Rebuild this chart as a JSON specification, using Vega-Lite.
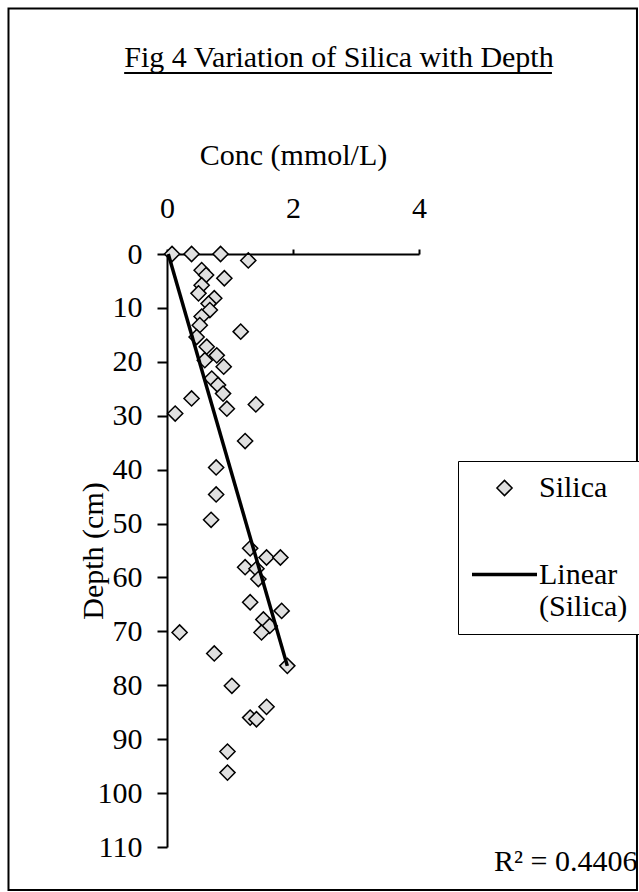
{
  "$schema": "https://vega.github.io/schema/vega-lite/v6.json",
  "autosize": {"type": "none"},
  "width": 252,
  "height": 593,
  "padding": {"left": 167, "top": 254, "right": 220, "bottom": 45},
  "background": "white",
  "config": {
    "view": {"stroke": null},
    "font": "Liberation Serif",
    "axis": {
      "labelFont": "Liberation Serif",
      "titleFont": "Liberation Serif",
      "labelFontSize": 30,
      "titleFontSize": 30,
      "titleFontWeight": "normal",
      "labelColor": "black",
      "titleColor": "black",
      "domainColor": "black",
      "tickColor": "black",
      "domainWidth": 2,
      "tickWidth": 2,
      "grid": false
    }
  },
  "title": {
    "text": "Fig 4 Variation of Silica with Depth",
    "font": "Liberation Serif",
    "fontSize": 30,
    "fontWeight": "normal",
    "color": "black",
    "anchor": "middle",
    "frame": "group",
    "dx": 46,
    "dy": 70
  },
  "layer": [
    {
      "data": {"values": [{"item": "frame"}]},
      "mark": {"type": "rect", "filled": false, "stroke": "black", "strokeWidth": 2, "clip": false},
      "encoding": {
        "x": {"datum": -2.516, "type": "quantitative", "scale": {"domain": [0, 4], "nice": false, "zero": false}},
        "x2": {"datum": 7.46},
        "y": {"datum": -45.54, "type": "quantitative", "scale": {"domain": [0, 110], "nice": false, "zero": false, "reverse": true}},
        "y2": {"datum": 117.98}
      }
    },
    {
      "data": {"values": [{"item": "underline"}]},
      "mark": {"type": "rule", "stroke": "black", "strokeWidth": 2, "clip": false},
      "encoding": {
        "x": {"datum": -0.68, "type": "quantitative"},
        "x2": {"datum": 6.11},
        "y": {"datum": -33.57, "type": "quantitative"}
      }
    },
    {
      "data": {
        "values": [
          {"conc": 0.08, "depth": 0, "series": "Silica"},
          {"conc": 0.39, "depth": 0, "series": "Silica"},
          {"conc": 0.85, "depth": 0, "series": "Silica"},
          {"conc": 1.29, "depth": 1.2, "series": "Silica"},
          {"conc": 0.55, "depth": 3.0, "series": "Silica"},
          {"conc": 0.62, "depth": 3.9, "series": "Silica"},
          {"conc": 0.91, "depth": 4.5, "series": "Silica"},
          {"conc": 0.55, "depth": 5.8, "series": "Silica"},
          {"conc": 0.5, "depth": 7.3, "series": "Silica"},
          {"conc": 0.75, "depth": 8.2, "series": "Silica"},
          {"conc": 0.66, "depth": 9.2, "series": "Silica"},
          {"conc": 0.68, "depth": 10.4, "series": "Silica"},
          {"conc": 0.55, "depth": 11.6, "series": "Silica"},
          {"conc": 0.52, "depth": 13.2, "series": "Silica"},
          {"conc": 1.17, "depth": 14.4, "series": "Silica"},
          {"conc": 0.47, "depth": 15.4, "series": "Silica"},
          {"conc": 0.63, "depth": 17.2, "series": "Silica"},
          {"conc": 0.79, "depth": 18.8, "series": "Silica"},
          {"conc": 0.6, "depth": 19.7, "series": "Silica"},
          {"conc": 0.9, "depth": 20.9, "series": "Silica"},
          {"conc": 0.71, "depth": 23.1, "series": "Silica"},
          {"conc": 0.81, "depth": 24.3, "series": "Silica"},
          {"conc": 0.89, "depth": 25.9, "series": "Silica"},
          {"conc": 0.39, "depth": 26.8, "series": "Silica"},
          {"conc": 1.41, "depth": 27.9, "series": "Silica"},
          {"conc": 0.95, "depth": 28.7, "series": "Silica"},
          {"conc": 0.13, "depth": 29.6, "series": "Silica"},
          {"conc": 1.24, "depth": 34.7, "series": "Silica"},
          {"conc": 0.78, "depth": 39.6, "series": "Silica"},
          {"conc": 0.78, "depth": 44.6, "series": "Silica"},
          {"conc": 0.7, "depth": 49.3, "series": "Silica"},
          {"conc": 1.32, "depth": 54.6, "series": "Silica"},
          {"conc": 1.58, "depth": 56.3, "series": "Silica"},
          {"conc": 1.8, "depth": 56.3, "series": "Silica"},
          {"conc": 1.24, "depth": 58.1, "series": "Silica"},
          {"conc": 1.42, "depth": 58.4, "series": "Silica"},
          {"conc": 1.45, "depth": 60.3, "series": "Silica"},
          {"conc": 1.32, "depth": 64.6, "series": "Silica"},
          {"conc": 1.82, "depth": 66.2, "series": "Silica"},
          {"conc": 1.53, "depth": 67.8, "series": "Silica"},
          {"conc": 1.63, "depth": 69.0, "series": "Silica"},
          {"conc": 1.5, "depth": 70.2, "series": "Silica"},
          {"conc": 0.2, "depth": 70.2, "series": "Silica"},
          {"conc": 0.75, "depth": 74.1, "series": "Silica"},
          {"conc": 1.91, "depth": 76.4, "series": "Silica"},
          {"conc": 1.03, "depth": 80.1, "series": "Silica"},
          {"conc": 1.58, "depth": 84.0, "series": "Silica"},
          {"conc": 1.32, "depth": 86.0, "series": "Silica"},
          {"conc": 1.42, "depth": 86.3, "series": "Silica"},
          {"conc": 0.96, "depth": 92.3, "series": "Silica"},
          {"conc": 0.96, "depth": 96.2, "series": "Silica"}
        ]
      },
      "mark": {"type": "point", "filled": true, "fill": "#e0e0e0", "stroke": "black", "opacity": 1, "fillOpacity": 1},
      "encoding": {
        "x": {
          "field": "conc", "type": "quantitative",
          "scale": {"domain": [0, 4], "nice": false, "zero": false},
          "axis": {"orient": "top", "values": [0, 2, 4], "format": "d", "title": "Conc (mmol/L)", "tickSize": 5, "labelPadding": 26, "labelFlush": false, "titleY": -99, "titleBaseline": "middle"}
        },
        "y": {
          "field": "depth", "type": "quantitative",
          "scale": {"domain": [0, 110], "nice": false, "zero": false, "reverse": true},
          "axis": {"orient": "left", "values": [0, 10, 20, 30, 40, 50, 60, 70, 80, 90, 100, 110], "format": "d", "title": "Depth (cm)", "tickSize": 10, "labelPadding": 15, "labelFlush": false, "titleX": -74, "titleY": 296.5, "titleAngle": 270, "titleBaseline": "middle", "titleAlign": "center"}
        },
        "shape": {
          "field": "series", "type": "nominal",
          "scale": {"domain": ["Silica", "Linear (Silica)"], "range": ["diamond", "M-1,0L1,0"]},
          "legend": {
            "title": null,
            "orient": "none",
            "legendX": 291,
            "legendY": 207,
            "strokeColor": "black",
            "fillColor": "white",
            "padding": 12,
            "labelFont": "Liberation Serif",
            "labelFontSize": 30,
            "labelColor": "black",
            "labelOffset": 0,
            "labelLimit": 0,
            "rowPadding": 37,
            "symbolFillColor": "#e0e0e0",
            "symbolStrokeColor": "black",
            "labelExpr": "datum.value == 'Linear (Silica)' ? ['Linear', '(Silica)'] : datum.label",
            "encode": {
              "legend": {"update": {"strokeWidth": {"value": 2}}},
              "labels": {"update": {"lineHeight": {"signal": "40"}}}
            }
          }
        },
        "size": {
          "field": "series", "type": "nominal",
          "scale": {"domain": ["Silica", "Linear (Silica)"], "range": [230, 4225]}
        },
        "strokeWidth": {
          "field": "series", "type": "nominal",
          "scale": {"domain": ["Silica", "Linear (Silica)"], "range": [1.5, 3.5]}
        }
      }
    },
    {
      "data": {"values": [{"conc": 0.02, "depth": 0}, {"conc": 1.91, "depth": 76.4}]},
      "mark": {"type": "line", "color": "black", "strokeWidth": 3.5},
      "encoding": {
        "x": {"field": "conc", "type": "quantitative"},
        "y": {"field": "depth", "type": "quantitative"}
      }
    },
    {
      "data": {"values": [{"label": "R² = 0.4406"}]},
      "mark": {"type": "text", "align": "left", "baseline": "middle", "fontSize": 30, "font": "Liberation Serif", "color": "black", "clip": false},
      "encoding": {
        "x": {"datum": 5.19, "type": "quantitative"},
        "y": {"datum": 112.8, "type": "quantitative"},
        "text": {"field": "label"}
      }
    }
  ]
}
